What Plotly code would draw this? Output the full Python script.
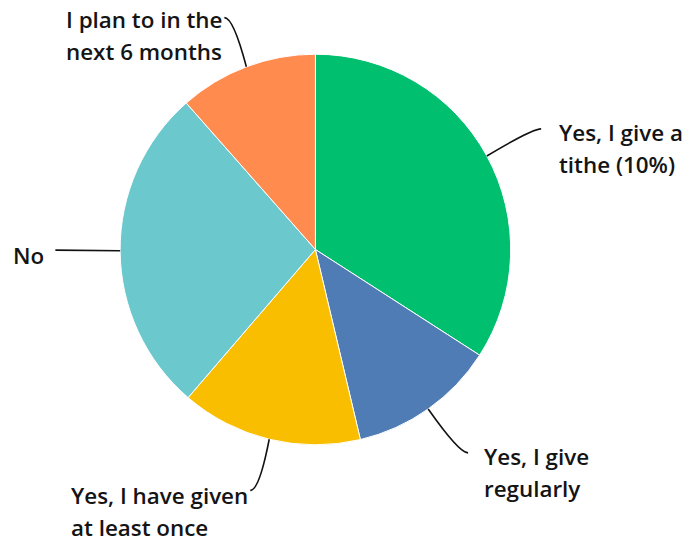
import math
import plotly.graph_objects as go

# ---- data ----
labels = ["Yes, I give a tithe (10%)", "Yes, I give regularly",
          "Yes, I have given at least once", "No",
          "I plan to in the next 6 months"]
label_lines = [["Yes, I give a", "tithe (10%)"],
               ["Yes, I give", "regularly"],
               ["Yes, I have given", "at least once"],
               ["No"],
               ["I plan to in the", "next 6 months"]]
values = [34.1, 12.2, 15.0, 27.2, 11.5]
colors = ["#00BF6F", "#507CB6", "#F9BE00", "#6BC8CD", "#FF8B4F"]

# ---- layout / styling ----
W, H = 685, 542
CX, CY, R = 315.4, 249.5, 195.3            # pie centre & radius (px)
LEADER_LEN = [256, 254, 250, 260, 249]     # leader length from centre (px)
LEADER_SHIFT = [(1, 2), (6, -4), (-6, -2), (0, -1), (-3, 1)]   # end nudges (px)
TEXT_DX = [17, 15, -180, -43, -159]         # text left edge relative to leader end
TEXT_DY = [4, 3.5, 5.5, 5, 1.5]             # first line centre relative to leader end
LINE_STEP = 32
HOOK = 9
FS = 22.4
TEXT_COLOR = "#141414"
FONT = "Open Sans"


def px2paper(x, y):
    return x / W, 1 - y / H


fig = go.Figure(go.Pie(
    labels=labels, values=values, sort=False, direction="clockwise",
    rotation=0,
    marker=dict(colors=colors, line=dict(color="white", width=1)),
    textinfo="none", hoverinfo="label+percent",
    domain=dict(x=[(CX - R) / W, (CX + R) / W],
                y=[1 - (CY + R) / H, 1 - (CY - R) / H]),
))

total = sum(values)
cum = 0.0
shapes, annotations = [], []
for i, v in enumerate(values):
    mid = (cum + v / 2) / total * 2 * math.pi
    cum += v
    s, c = math.sin(mid), math.cos(mid)
    sx, sy = CX + R * s, CY - R * c
    L = LEADER_LEN[i]
    ex = CX + L * s + LEADER_SHIFT[i][0]
    ey = CY - L * c + LEADER_SHIFT[i][1]
    side = 1 if s > 0.01 else -1
    qx, qy = ex - side * HOOK, ey
    p = [px2paper(sx, sy), px2paper(qx, qy), px2paper(ex, ey)]
    path = "M {:.5f},{:.5f} Q {:.5f},{:.5f} {:.5f},{:.5f}".format(
        p[0][0], p[0][1], p[1][0], p[1][1], p[2][0], p[2][1])
    shapes.append(dict(type="path", xref="paper", yref="paper", path=path,
                       line=dict(color="#111111", width=1.6)))
    tx = ex + TEXT_DX[i]
    for k, line in enumerate(label_lines[i]):
        ty = ey + TEXT_DY[i] + k * LINE_STEP
        ax, ay = px2paper(tx, ty)
        annotations.append(dict(
            x=ax, y=ay, xref="paper", yref="paper", text=line,
            showarrow=False, xanchor="left", yanchor="middle",
            align="left", borderpad=0,
            font=dict(family=FONT, size=FS, color=TEXT_COLOR, weight=600),
        ))

fig.update_layout(
    width=W, height=H, margin=dict(l=0, r=0, t=0, b=0),
    paper_bgcolor="white", plot_bgcolor="white", showlegend=False,
    shapes=shapes, annotations=annotations,
)

# remove the browser's default 8px body margin so the figure fills the window
fig.write_html("out.html",
               config={"displayModeBar": False},
               post_script="document.body.style.margin='0';"
                           "document.body.style.overflow='hidden';")
